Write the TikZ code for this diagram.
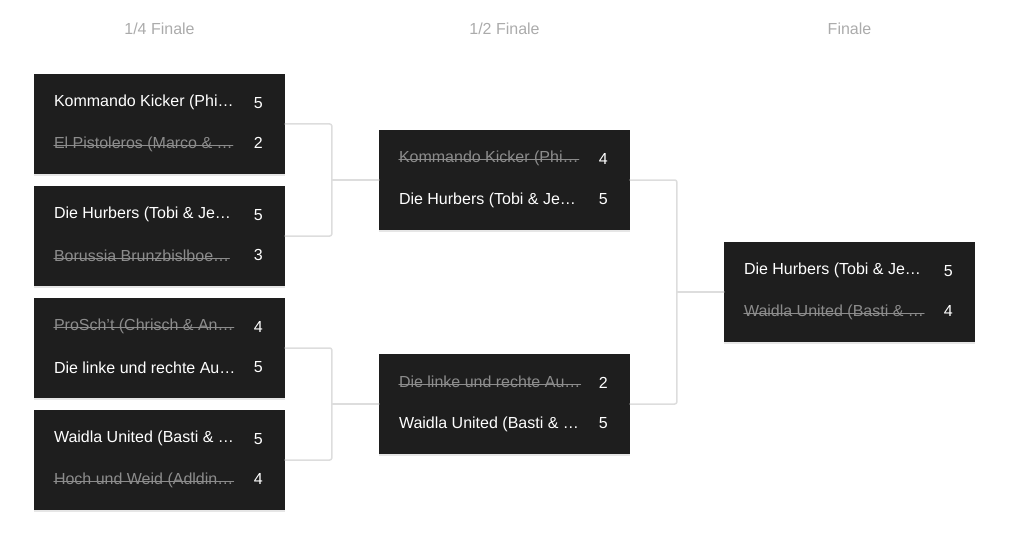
\documentclass[tikz,border=0pt]{standalone}
\usepackage{fontspec}
\setmainfont{Liberation Sans}
\usetikzlibrary{shadows}
\definecolor{boxbg}{HTML}{1E1E1E}
\definecolor{losegray}{HTML}{8C8C8C}
\definecolor{linkgray}{HTML}{DDDDDD}
\definecolor{headgray}{HTML}{ABABAB}
\begin{document}
\begin{tikzpicture}[x=1pt,y=-1pt,font=\fontsize{16}{19}\selectfont,line join=round,line cap=round,
	match/.style={fill=boxbg,minimum width=251pt,minimum height=100pt,inner sep=0pt,
		drop shadow={opacity=0.2,shadow xshift=0pt,shadow yshift=-2pt}},
	team/.style={anchor=west,inner sep=0pt},
	win/.style={text=white},
	lost/.style={text=losegray,append after command={
		([yshift=0.3em]\tikzlastnode.base west) edge[draw=losegray,line width=0.9pt]
		([yshift=0.3em]\tikzlastnode.base east)}},
	score/.style={text=white,inner sep=0pt},
	link/.style={draw=linkgray,line width=1.5pt,rounded corners=2pt},
	head/.style={text=headgray}]
		\useasboundingbox (0,0) rectangle (1024,540);
		\node[head] (h1) at (159.5,29) {1/4 Finale};
		\node[head] (h2) at (504.5,29) {1/2 Finale};
		\node[head] (h3) at (849.5,29) {Finale};
		\foreach \n/\x/\y/\a/\la/\sa/\b/\lb/\sb in {
			q1/159.5/124/{Kommando Kicker (Phi…}/win/5/{El Pistoleros (Marco \& …}/lost/2,
			q2/159.5/236/{Die Hurbers (Tobi \& Je…}/win/5/{Borussia Brunzbislboe…}/lost/3,
			q3/159.5/348/{ProSch't (Chrisch \& An…}/lost/4/{Die linke und rechte Au…}/win/5,
			q4/159.5/460/{Waidla United (Basti \& …}/win/5/{Hoch und Weid (Adldin…}/lost/4,
			s1/504.5/180/{Kommando Kicker (Phi…}/lost/4/{Die Hurbers (Tobi \& Je…}/win/5,
			s2/504.5/404/{Die linke und rechte Au…}/lost/2/{Waidla United (Basti \& …}/win/5,
			f/849.5/292/{Die Hurbers (Tobi \& Je…}/win/5/{Waidla United (Basti \& …}/lost/4}
		{
			\node[match] (\n) at (\x,\y) {};
			\node[team,\la] (\n a) at ([xshift=20pt,yshift=22pt]\n.west) {\a};
			\node[team,\lb] (\n b) at ([xshift=20pt,yshift=-20pt]\n.west) {\b};
			\node[score] (\n sa) at ([xshift=-27pt,yshift=21pt]\n.east) {\sa};
			\node[score] (\n sb) at ([xshift=-27pt,yshift=-19pt]\n.east) {\sb};
		}
		\draw[link] (q1.east) -| ([xshift=-47pt]s1.west) |- (q2.east);
		\draw[link] ([xshift=-47pt]s1.west) -- (s1.west);
		\draw[link] (q3.east) -| ([xshift=-47pt]s2.west) |- (q4.east);
		\draw[link] ([xshift=-47pt]s2.west) -- (s2.west);
		\draw[link] (s1.east) -| ([xshift=-47pt]f.west) |- (s2.east);
		\draw[link] ([xshift=-47pt]f.west) -- (f.west);
\end{tikzpicture}
\end{document}
